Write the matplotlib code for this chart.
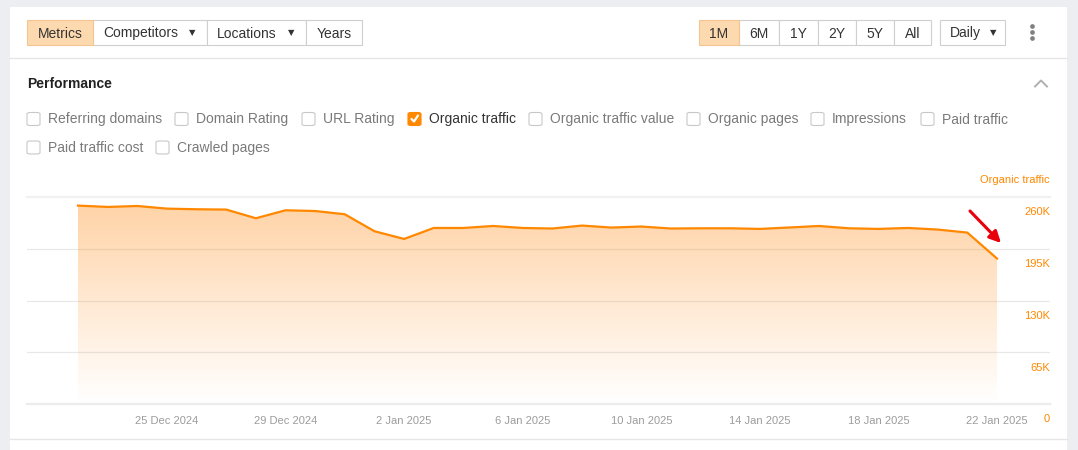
import matplotlib
matplotlib.use("Agg")
import matplotlib.pyplot as plt
import matplotlib.dates as mdates
from matplotlib.patches import Rectangle, FancyBboxPatch
from matplotlib.lines import Line2D
import numpy as np
import pandas as pd

plt.rcParams['font.family'] = ['Liberation Sans', 'DejaVu Sans']

# ---------------- data ----------------
dates = pd.date_range("2024-12-22", "2025-01-22", freq="D")
organic_traffic = [249200, 247500, 248700, 245400, 244600, 244200, 233300, 243300,
                   242400, 238300, 217000, 207300, 221100, 221100, 223600, 221100,
                   220400, 224100, 221600, 222900, 220400, 220700, 220700, 219900,
                   221700, 223600, 220700, 219900, 221100, 219100, 215300, 182700]
tick_dates = ["2024-12-25", "2024-12-29", "2025-01-02", "2025-01-06",
              "2025-01-10", "2025-01-14", "2025-01-18", "2025-01-22"]
tick_labels = ["25 Dec 2024", "29 Dec 2024", "2 Jan 2025", "6 Jan 2025",
               "10 Jan 2025", "14 Jan 2025", "18 Jan 2025", "22 Jan 2025"]
y_ticks = [0, 65000, 130000, 195000, 260000]
y_tick_labels = ["0", "65K", "130K", "195K", "260K"]
series_name = "Organic traffic"

left_buttons = ["Metrics", "Competitors", "Locations", "Years"]
range_buttons = ["1M", "6M", "1Y", "2Y", "5Y", "All"]
metrics_row1 = ["Referring domains", "Domain Rating", "URL Rating", "Organic traffic",
                "Organic traffic value", "Organic pages", "Impressions", "Paid traffic"]
metrics_row2 = ["Paid traffic cost", "Crawled pages"]
checked_metric = "Organic traffic"

# ---------------- layout helpers ----------------
W, H = 1078, 450
fig = plt.figure(figsize=(W / 100, H / 100), dpi=100, facecolor="#eceef1")

def fx(x):
    return x / W

def fy(y):
    return 1 - y / H

def frect(x0, y0, x1, y1, zorder=-1, **kw):
    fig.patches.append(Rectangle((fx(x0), fy(y1)), fx(x1) - fx(x0), fy(y0) - fy(y1),
                                 transform=fig.transFigure, zorder=zorder, **kw))

def ftext(x, y, s, **kw):
    fig.text(fx(x), fy(y), s, **kw)

def fline(xs, ys, **kw):
    fig.add_artist(Line2D([fx(v) for v in xs], [fy(v) for v in ys],
                          transform=fig.transFigure, **kw))

# white panel
frect(10, 7, 1067, 450, facecolor="white", edgecolor="none", zorder=-5)
fline([10, 1067], [58, 58], color="#e6e6e6", lw=1)
fline([10, 1067], [438.5, 438.5], color="#e6e6e6", lw=1)

# ---------------- toolbar buttons ----------------
TXT = "#333333"
BTN_Y0, BTN_Y1 = 20, 45
TY = 37.5  # text baseline
left_edges = [27, 93, 207, 306, 362]
for i, name in enumerate(left_buttons):
    x0, x1 = left_edges[i], left_edges[i + 1]
    active = (i == 0)
    frect(x0, BTN_Y0, x1, BTN_Y1, facecolor="#fdd9b0" if active else "white",
          edgecolor="#f3c591" if active else "#cfcfcf", lw=0.8, zorder=-2 if active else -3)
    if name in ("Competitors", "Locations"):
        ftext(x0 + 10, TY, name, ha="left", va="baseline", fontsize=10, color=TXT)
        ftext(x1 - 15, 32.5, "▼", ha="center", va="center", fontsize=6,
              color="#333333", family="DejaVu Sans")
    else:
        ftext((x0 + x1) / 2, TY, name, ha="center", va="baseline", fontsize=10, color=TXT)

range_edges = [699, 739, 779, 818, 856, 894, 931]
for i, name in enumerate(range_buttons):
    x0, x1 = range_edges[i], range_edges[i + 1]
    active = (i == 0)
    frect(x0, BTN_Y0, x1, BTN_Y1, facecolor="#fdd9b0" if active else "white",
          edgecolor="#f3c591" if active else "#cfcfcf", lw=0.8, zorder=-2 if active else -3)
    ftext((x0 + x1) / 2, TY, name, ha="center", va="baseline", fontsize=10, color=TXT)

frect(940, BTN_Y0, 1005, BTN_Y1, facecolor="white", edgecolor="#cfcfcf", lw=0.8)
ftext(950, TY, "Daily", ha="left", va="baseline", fontsize=10, color=TXT)
ftext(993, 32.5, "▼", ha="center", va="center", fontsize=6, color=TXT, family="DejaVu Sans")

fline([1032, 1032, 1032], [26, 32, 38], linestyle="none", marker="o", markersize=3.4,
      markerfacecolor="#808080", markeredgecolor="none")

# ---------------- performance header ----------------
ftext(27, 88.5, "Performance", ha="left", va="baseline", fontsize=10, fontweight="bold",
      color="#222222")
fline([1035, 1041, 1047], [86.5, 80.5, 86.5], color="#b0b0b0", lw=1.4)

# ---------------- metric checkboxes ----------------
row1_box_x = [27, 175, 302, 408, 529, 687, 811, 921]
row2_box_x = [27, 156]

def checkbox(x, y, label):
    checked = (label == checked_metric)
    fig.patches.append(FancyBboxPatch((fx(x), fy(y + 7)), 13 / W, 13 / H,
                                      boxstyle="round,pad=0,rounding_size=0.003",
                                      transform=fig.transFigure, zorder=-1,
                                      facecolor="#ff8800" if checked else "white",
                                      edgecolor="#ff8800" if checked else "#c8c8c8", lw=0.8))
    if checked:
        fline([x + 3.5, x + 6, x + 10], [y + 0.5, y + 3, y - 3], color="white", lw=1.6,
              solid_capstyle="round")
    ftext(x + 21, y + 5, label, ha="left", va="baseline", fontsize=10,
          color="#333333" if checked else "#7a7a7a")

for x, lab in zip(row1_box_x, metrics_row1):
    checkbox(x, 118.5, lab)
for x, lab in zip(row2_box_x, metrics_row2):
    checkbox(x, 147, lab)

# ---------------- chart ----------------
ax_l, ax_r, ax_t, ax_b = 27, 1050, 197, 404
ax = fig.add_axes([fx(ax_l), fy(ax_b), fx(ax_r) - fx(ax_l), fy(ax_t) - fy(ax_b)])
ax.set_facecolor("none")
ax.set_zorder(1)
for s in ax.spines.values():
    s.set_visible(False)

xnum = mdates.date2num(dates)
day_px = (997 - 78) / (len(dates) - 1)
xmin = xnum[0] - (78 - ax_l) / day_px
xmax = xnum[-1] + (ax_r - 997) / day_px

# gridlines
for v in y_ticks:
    if v == 0:
        ax.axhline(v, color="#ececec", lw=1.6, zorder=0.5, clip_on=False)
    elif v == y_ticks[-1]:
        ax.axhline(v, color="#f1f1f1", lw=1.6, zorder=0.5, clip_on=False)
    else:
        ax.axhline(v, color="#e8e8e8", lw=0.9, zorder=0.5)

# gradient fill under the line
fill = ax.fill_between(xnum, organic_traffic, 0, facecolor="none", edgecolor="none")
alpha = np.linspace(0.0, 0.42, 256).reshape(-1, 1)
grad = np.zeros((256, 1, 4))
grad[..., 0] = 1.0
grad[..., 1] = 0.58
grad[..., 2] = 0.15
grad[..., 3] = alpha
im = ax.imshow(grad, extent=[xmin, xmax, 0, y_ticks[-1]], origin="lower",
               aspect="auto", zorder=1, interpolation="bilinear")
im.set_clip_path(fill.get_paths()[0], transform=ax.transData)

ax.plot(xnum, organic_traffic, color="#ff8800", lw=1.6, zorder=3, solid_joinstyle="round")
ax.set_xlim(xmin, xmax)
ax.set_ylim(0, y_ticks[-1])

# x ticks
ax.set_xticks(mdates.date2num(pd.to_datetime(tick_dates)))
ax.set_xticklabels(tick_labels, fontsize=8, color="#9c9c9c")
ax.tick_params(axis="x", length=0, pad=8.5)
ax.set_yticks([])

# y labels (right side, below each gridline)
for v, lab in zip(y_ticks, y_tick_labels):
    ax.annotate(lab, xy=(1.0, v), xycoords=("axes fraction", "data"),
                xytext=(0, -11), textcoords="offset points",
                ha="right", va="center", fontsize=8, color="#ff8800", annotation_clip=False)

ftext(1050, 180, series_name, ha="right", va="center", fontsize=8, color="#ff8800")

# red arrow annotation
ax.annotate("", xy=(1001, H - 243), xycoords="figure pixels",
            xytext=(970, H - 211), textcoords="figure pixels",
            arrowprops=dict(arrowstyle="-|>", color="#e8000b", lw=2.2, mutation_scale=17,
                            shrinkA=0, shrinkB=0), annotation_clip=False)

fig.savefig("out.png", dpi=100, facecolor=fig.get_facecolor())
